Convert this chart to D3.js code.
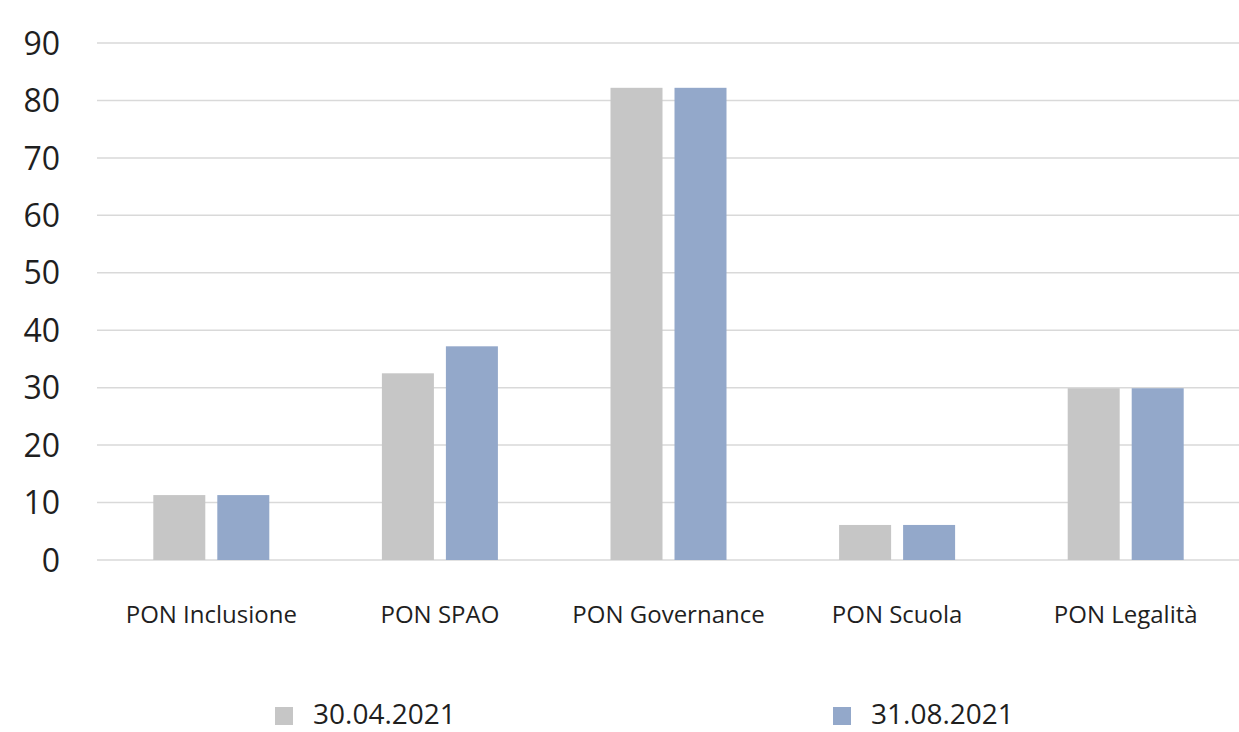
<!DOCTYPE html>
<html>
<head>
<meta charset="utf-8">
<script src="https://cdn.jsdelivr.net/npm/d3@7"></script>
<style>
html,body{margin:0;padding:0;background:#fff;overflow:hidden;}
svg{display:block;font-family:"Open Sans",sans-serif;}
</style>
</head>
<body>
<svg id="chart" width="1239" height="732"></svg>
<script>
const categories = ["PON Inclusione","PON SPAO","PON Governance","PON Scuola","PON Legalità"];
const seriesNames = ["30.04.2021","31.08.2021"];
const values0 = [11.3, 32.5, 82.2, 6.1, 29.9];
const values1 = [11.3, 37.2, 82.2, 6.1, 29.9];
const yTicks = [0,10,20,30,40,50,60,70,80,90];
const colors = ["#c6c6c6","#93a8ca"];

const svg = d3.select("#chart");
const x0 = d3.scaleBand().domain(categories).range([97,1240]).padding(0);
const inner = 116;
const x1 = d3.scaleBand().domain(seriesNames)
  .range([(x0.bandwidth()-inner)/2,(x0.bandwidth()+inner)/2])
  .paddingInner(0.1875).paddingOuter(0);
const y = d3.scaleLinear().domain([0,90]).range([560,43]);

// gridlines
svg.append("g").selectAll("line").data(yTicks).join("line")
  .attr("x1",97).attr("x2",1239)
  .attr("y1",d=>y(d)).attr("y2",d=>y(d))
  .attr("stroke","#d9d9d9").attr("stroke-width",1.5);

// y axis labels
const yAxis = d3.axisLeft(y).tickValues(yTicks).tickSize(0).tickPadding(0);
const yg = svg.append("g").attr("transform","translate(60,0)").call(yAxis);
yg.select(".domain").remove();
yg.selectAll("text").attr("font-size","32px").attr("fill","#1f1f1f")
  .attr("font-family","'Open Sans',sans-serif").attr("dy","0.35em");

// bars
const data = categories.map((c,i)=>({cat:c, vals:[values0[i],values1[i]]}));
const groups = svg.append("g").selectAll("g").data(data).join("g")
  .attr("transform",d=>`translate(${x0(d.cat)},0)`);
groups.selectAll("rect").data(d=>d.vals.map((v,j)=>({s:seriesNames[j],v,j})))
  .join("rect")
  .attr("x",d=>x1(d.s)).attr("width",x1.bandwidth())
  .attr("y",d=>y(d.v)).attr("height",d=>y(0)-y(d.v))
  .attr("fill",d=>colors[d.j]);

// x axis labels
const xAxis = d3.axisBottom(x0).tickSize(0).tickPadding(0);
const xg = svg.append("g").call(xAxis);
xg.select(".domain").remove();
xg.selectAll("text").attr("font-size","24px").attr("fill","#1f1f1f")
  .attr("font-family","'Open Sans',sans-serif").attr("y",623).attr("dy",0);

// legend
const legendX = [275,833];
const lg = svg.append("g").selectAll("g").data(seriesNames).join("g")
  .attr("transform",(d,i)=>`translate(${legendX[i]},0)`);
lg.append("rect").attr("x",0).attr("y",707).attr("width",18).attr("height",18)
  .attr("fill",(d,i)=>colors[i]);
lg.append("text").attr("x",38).attr("y",724).text(d=>d)
  .attr("font-size","28px").attr("fill","#1f1f1f");
</script>
</body>
</html>
